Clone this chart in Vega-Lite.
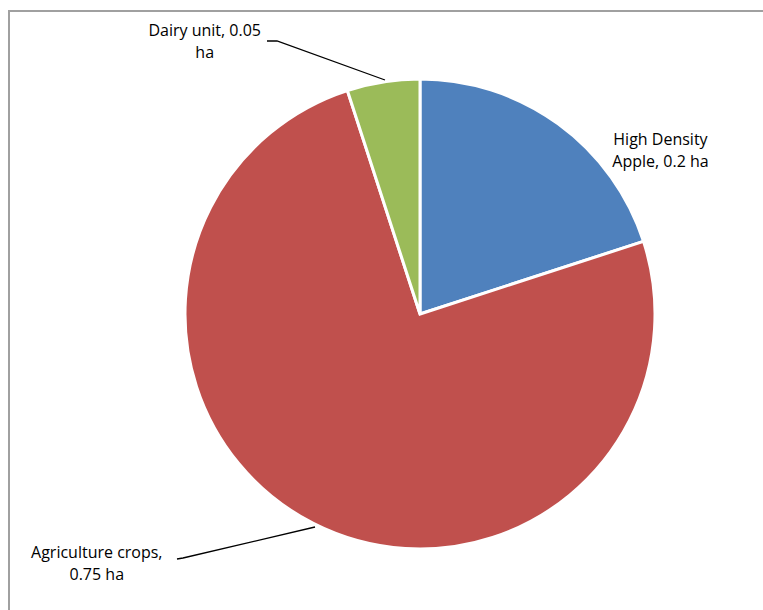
{
  "$schema": "https://vega.github.io/schema/vega-lite/v6.json",
  "width": 822,
  "height": 606,
  "autosize": "none",
  "padding": {"left": 9, "top": 11, "right": -68, "bottom": -7},
  "background": "white",
  "config": {
    "view": {"stroke": "#a0a0a0", "strokeWidth": 2},
    "text": {"font": "Open Sans", "fontSize": 16, "color": "#000000"}
  },
  "datasets": {
    "slices": [
      {"category": "High Density Apple", "area": 0.2, "order": 1, "label": "High Density\nApple, 0.2 ha"},
      {"category": "Agriculture crops", "area": 0.75, "order": 2, "label": "Agriculture crops,\n0.75 ha"},
      {"category": "Dairy unit", "area": 0.05, "order": 3, "label": "Dairy unit, 0.05\nha"}
    ],
    "leaders": [
      {"leader": "Dairy unit", "step": 1, "px": -153, "py": -273},
      {"leader": "Dairy unit", "step": 2, "px": -143, "py": -273},
      {"leader": "Dairy unit", "step": 3, "px": -35, "py": -234},
      {"leader": "Agriculture crops", "step": 1, "px": -243, "py": 245},
      {"leader": "Agriculture crops", "step": 2, "px": -237, "py": 244},
      {"leader": "Agriculture crops", "step": 3, "px": -105, "py": 213}
    ]
  },
  "layer": [
    {
      "data": {"name": "slices"},
      "mark": {"type": "arc", "outerRadius": 235, "stroke": "white", "strokeWidth": 3},
      "encoding": {
        "theta": {"field": "area", "type": "quantitative", "stack": true},
        "order": {"field": "order", "type": "quantitative"},
        "color": {
          "field": "category",
          "type": "nominal",
          "scale": {
            "domain": ["High Density Apple", "Agriculture crops", "Dairy unit"],
            "range": ["#4F81BD", "#C0504D", "#9BBB59"]
          },
          "legend": null
        }
      }
    },
    {
      "data": {"name": "slices"},
      "mark": {"type": "text", "radius": 290, "dx": 70, "dy": 61, "lineBreak": "\n", "lineHeight": 22, "align": "center", "baseline": "middle"},
      "encoding": {
        "theta": {"field": "area", "type": "quantitative", "stack": true},
        "order": {"field": "order", "type": "quantitative"},
        "text": {"condition": {"test": "datum.category === 'High Density Apple'", "field": "label"}, "value": ""}
      }
    },
    {
      "data": {"name": "slices"},
      "mark": {"type": "text", "radius": 408, "dx": -138, "dy": -125, "lineBreak": "\n", "lineHeight": 22, "align": "center", "baseline": "middle"},
      "encoding": {
        "theta": {"field": "area", "type": "quantitative", "stack": true},
        "order": {"field": "order", "type": "quantitative"},
        "text": {"condition": {"test": "datum.category === 'Agriculture crops'", "field": "label"}, "value": ""}
      }
    },
    {
      "data": {"name": "slices"},
      "mark": {"type": "text", "radius": 347, "dx": -161, "dy": 60, "lineBreak": "\n", "lineHeight": 22, "align": "center", "baseline": "middle"},
      "encoding": {
        "theta": {"field": "area", "type": "quantitative", "stack": true},
        "order": {"field": "order", "type": "quantitative"},
        "text": {"condition": {"test": "datum.category === 'Dairy unit'", "field": "label"}, "value": ""}
      }
    },
    {
      "data": {"name": "leaders"},
      "mark": {"type": "line", "color": "#000000", "strokeWidth": 1.3},
      "encoding": {
        "x": {"field": "px", "type": "quantitative", "scale": {"domain": [-411, 411]}, "axis": null},
        "y": {"field": "py", "type": "quantitative", "scale": {"domain": [-303, 303], "reverse": true}, "axis": null},
        "detail": {"field": "leader"},
        "order": {"field": "step"}
      }
    }
  ]
}
